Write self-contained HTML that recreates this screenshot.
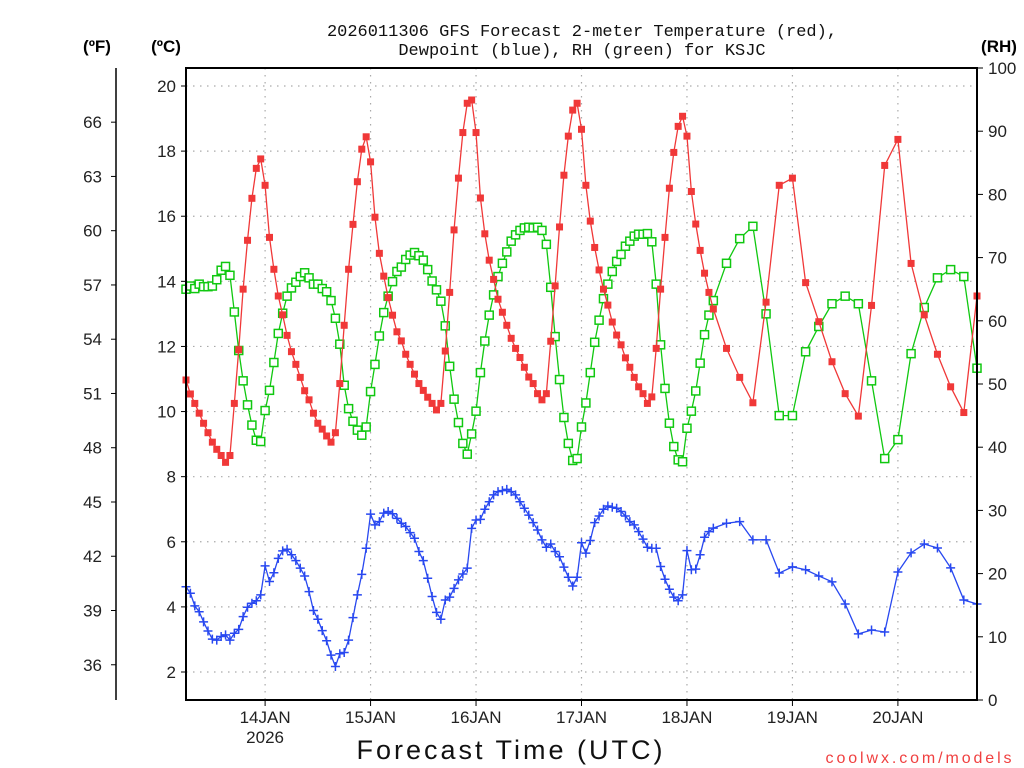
<!DOCTYPE html>
<html><head><meta charset="utf-8"><title>GFS Forecast KSJC</title>
<style>
html,body{margin:0;padding:0;background:#fff;}
svg{display:block;font-family:"Liberation Sans","DejaVu Sans",sans-serif;}
</style></head>
<body>
<svg id="chart" width="1024" height="768" viewBox="0 0 1024 768" xmlns="http://www.w3.org/2000/svg">
<g font-size="17" fill="#111" text-anchor="middle" font-family="'Liberation Mono','DejaVu Sans Mono',monospace">
<text x="582" y="36">2026011306 GFS Forecast 2-meter Temperature (red),</text>
<text x="582" y="55">Dewpoint (blue), RH (green) for KSJC</text>
</g>
<text x="97" y="52" font-size="17" font-weight="bold" text-anchor="middle">(ºF)</text>
<text x="166" y="52" font-size="17" font-weight="bold" text-anchor="middle">(ºC)</text>
<text x="999" y="52" font-size="17" font-weight="bold" text-anchor="middle">(RH)</text>
<g id="grid"></g>
<g id="axes"></g>
<g id="series"></g>
<rect x="186" y="68" width="791" height="632" fill="none" stroke="#000" stroke-width="2"/>
<text x="511" y="759" font-size="27" text-anchor="middle" letter-spacing="3" fill="#111">Forecast Time (UTC)</text>
<text x="920" y="763" font-size="16" text-anchor="middle" letter-spacing="2.9" fill="#f04040">coolwx.com/models</text>
</svg>
<script>
const dayLabels = ["14JAN","15JAN","16JAN","17JAN","18JAN","19JAN","20JAN"];
const dayHours = [18,42,66,90,114,138,162];
const celsiusTicks = [2,4,6,8,10,12,14,16,18,20];
const fahrenheitTicks = [36,39,42,45,48,51,54,57,60,63,66];
const rhTicks = [0,10,20,30,40,50,60,70,80,90,100];
const hours = [];
for (let h = 0; h <= 120; h++) hours.push(h);
for (let h = 123; h <= 180; h += 3) hours.push(h);
const temperature = [10.97,10.54,10.25,9.95,9.64,9.35,9.06,8.84,8.65,8.44,8.65,10.25,11.9,13.76,15.26,16.55,17.47,17.76,16.95,15.35,14.37,13.55,12.97,12.34,11.84,11.45,11.05,10.64,10.36,9.95,9.64,9.46,9.25,9.06,9.35,10.86,12.65,14.37,15.75,17.06,18.06,18.44,17.67,15.97,14.86,14.16,13.5,12.96,12.45,12.17,11.76,11.45,11.15,10.86,10.65,10.44,10.25,10.05,10.25,11.86,13.66,15.58,17.17,18.57,19.47,19.57,18.57,16.56,15.46,14.65,14.06,13.45,13.05,12.65,12.25,11.94,11.66,11.36,11.06,10.86,10.55,10.36,10.55,12.16,13.86,15.67,17.26,18.46,19.26,19.47,18.67,16.95,15.85,15.04,14.35,13.76,13.27,12.75,12.35,12.05,11.65,11.36,11.05,10.76,10.55,10.25,10.45,11.94,13.76,15.35,16.86,17.96,18.76,19.07,18.46,16.76,15.76,14.95,14.25,13.66,13.15,11.94,11.05,10.27,13.36,16.95,17.17,13.96,12.76,11.53,10.55,9.86,13.26,17.56,18.36,14.55,12.97,11.76,10.76,9.97,13.55];
const dewpoint = [4.62,4.42,4.03,3.85,3.54,3.26,3.01,2.98,3.09,3.14,2.98,3.19,3.31,3.70,3.99,4.11,4.19,4.37,5.26,4.78,5.05,5.49,5.72,5.77,5.60,5.42,5.19,4.95,4.47,3.89,3.62,3.27,2.96,2.52,2.17,2.56,2.60,2.98,3.67,4.37,5.00,5.80,6.85,6.52,6.62,6.88,6.93,6.86,6.72,6.57,6.47,6.28,6.11,5.70,5.42,4.88,4.32,3.83,3.62,4.21,4.30,4.57,4.83,5.01,5.19,6.41,6.67,6.69,7.00,7.23,7.44,7.54,7.57,7.61,7.54,7.44,7.23,7.03,6.82,6.59,6.36,6.06,5.83,5.93,5.70,5.54,5.22,4.91,4.64,4.91,5.97,5.65,6.04,6.59,6.79,7.00,7.10,7.06,7.03,6.93,6.79,6.62,6.52,6.31,6.08,5.83,5.80,5.80,5.24,4.85,4.54,4.30,4.19,4.37,5.73,5.14,5.16,5.60,6.14,6.31,6.42,6.57,6.62,6.06,6.06,5.04,5.23,5.14,4.95,4.77,4.09,3.17,3.29,3.23,5.07,5.66,5.93,5.81,5.20,4.21,4.09];
const humidity = [65.0,65.5,65.1,65.8,65.4,65.4,65.5,66.5,68.0,68.6,67.2,61.4,55.3,50.5,46.7,43.5,41.1,40.9,45.8,49.0,53.4,58.0,61.2,63.9,65.2,66.1,67.0,67.6,66.8,65.8,65.8,65.1,64.6,63.2,60.4,56.3,49.8,46.1,44.1,42.7,41.9,43.2,48.8,53.1,57.6,61.3,63.9,66.2,67.8,68.5,69.7,70.4,70.8,70.3,69.6,68.1,66.3,64.9,63.1,59.2,52.8,47.6,43.9,40.6,38.9,42.1,45.7,51.8,56.8,60.9,64.1,67.0,69.1,70.9,72.6,73.6,74.3,74.7,74.8,74.7,74.8,74.3,72.1,65.3,57.5,50.7,44.7,40.6,37.9,38.2,43.2,47.0,51.8,56.6,60.1,63.5,65.8,67.8,69.4,70.5,71.8,72.6,73.4,73.7,73.7,73.8,72.5,65.8,56.2,49.3,43.8,40.1,38.0,37.7,43.0,45.7,48.9,53.3,57.8,60.9,63.2,69.1,73.0,74.95,61.1,45.0,45.0,55.1,59.1,62.7,63.9,62.7,50.5,38.2,41.2,54.8,62.1,66.8,68.1,67.0,52.5];

const NS = "http://www.w3.org/2000/svg";
const X0 = 186, X1 = 977, Y0 = 68, Y1 = 700;
function xScale(h){ return X0 + (h/180)*(X1-X0); }
function yC(c){ return 86 + (20-c)*(672-86)/18; }
function yF(f){ return yC((f-32)*5/9); }
function yRH(r){ return Y1 - r*(Y1-Y0)/100; }
function mk(tag, attrs, parent){
  const e = document.createElementNS(NS, tag);
  for (const k in attrs) e.setAttribute(k, attrs[k]);
  parent.appendChild(e);
  return e;
}
const grid = document.getElementById('grid');
const axes = document.getElementById('axes');
const series = document.getElementById('series');

celsiusTicks.forEach(c => {
  const y = yC(c);
  const g = mk('line',{x1:X0,x2:X1,y1:y,y2:y,stroke:'#aaa','stroke-width':1.2,'stroke-dasharray':'1.5,5.5'},grid);
  
  
  const t = mk('line',{x1:X0-5,x2:X0,y1:y,y2:y,stroke:'#000','stroke-width':1},axes);
  
  
  const l = mk('text',{x:X0-10,y:y+6,'font-size':17,'text-anchor':'end',fill:'#222'},axes);
  l.textContent = c;
  
  
});
dayHours.forEach((h,i) => {
  const x = xScale(h);
  const g = mk('line',{x1:x,x2:x,y1:Y0,y2:Y1,stroke:'#aaa','stroke-width':1.2,'stroke-dasharray':'1.5,5.5'},grid);
  
  
  const t = mk('line',{x1:x,x2:x,y1:Y1,y2:Y1+6,stroke:'#000','stroke-width':1},axes);
  
  
  const l = mk('text',{x:x,y:723,'font-size':17,'text-anchor':'middle',fill:'#222'},axes);
  l.textContent = dayLabels[i];
  
  
});
const yr = mk('text',{x:xScale(dayHours[0]),y:743,'font-size':17,'text-anchor':'middle',fill:'#222'},axes);
yr.textContent = '2026';



const fl = mk('line',{x1:116,x2:116,y1:Y0,y2:Y1,stroke:'#000','stroke-width':1.5},axes);


fahrenheitTicks.forEach(f => {
  const y = yF(f);
  const t = mk('line',{x1:111,x2:116,y1:y,y2:y,stroke:'#000','stroke-width':1},axes);
  
  
  const l = mk('text',{x:102,y:y+6,'font-size':17,'text-anchor':'end',fill:'#222'},axes);
  l.textContent = f;
  
  
});
rhTicks.forEach(r => {
  const y = yRH(r);
  const t = mk('line',{x1:X1,x2:X1+6,y1:y,y2:y,stroke:'#000','stroke-width':1},axes);
  
  
  const l = mk('text',{x:988,y:y+6,'font-size':17,'text-anchor':'start',fill:'#222'},axes);
  l.textContent = r;
  
  
});

function linePath(vals, yfn){
  return vals.map((v,i)=> (i?'L':'M') + xScale(hours[i]).toFixed(2) + ',' + yfn(v).toFixed(2)).join(' ');
}
const rhLine = mk('path',{d:linePath(humidity,yRH),fill:'none',stroke:'#10c810','stroke-width':1.3},series);


humidity.forEach((v,i)=>{
  const x = xScale(hours[i]), y = yRH(v);
  const m = mk('rect',{x:x-4,y:y-4,width:8,height:8,fill:'#fff',stroke:'#10c810','stroke-width':1.5},series);
  
  
});
const tLine = mk('path',{d:linePath(temperature,yC),fill:'none',stroke:'#f03838','stroke-width':1.3},series);


temperature.forEach((v,i)=>{
  const x = xScale(hours[i]), y = yC(v);
  const m = mk('rect',{x:x-3.5,y:y-3.5,width:7,height:7,fill:'#f03838'},series);
  
  
});
const dLine = mk('path',{d:linePath(dewpoint,yC),fill:'none',stroke:'#2848f0','stroke-width':1.3},series);


dewpoint.forEach((v,i)=>{
  const x = xScale(hours[i]), y = yC(v);
  const m = mk('path',{d:`M${x-4.5},${y}H${x+4.5}M${x},${y-4.5}V${y+4.5}`,stroke:'#2848f0','stroke-width':1.5,fill:'none'},series);
  
  
});
</script>
</body></html>
